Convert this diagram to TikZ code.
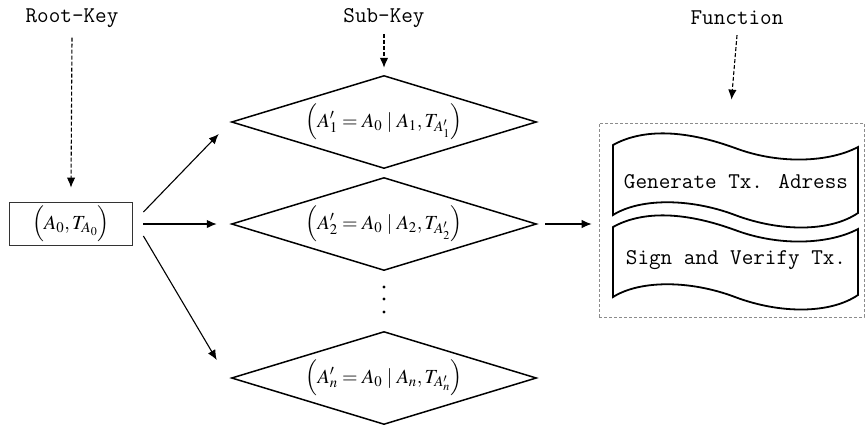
\documentclass[tikz,border=0pt]{standalone}
\usepackage{mathptmx}
\usepackage[no-math]{fontspec}
\usetikzlibrary{shapes.geometric,arrows.meta}
\tikzset{
  lbl/.style={font=\ttfamily\fontsize{22.5}{26}\selectfont, inner sep=0pt},
  mth/.style={font=\fontsize{20}{24}\selectfont},
  dia/.style={diamond, draw=black, line width=1.5pt, aspect=3.3, inner sep=0pt, minimum width=305pt, minimum height=93pt, mth},
  rootbox/.style={draw=black!80, line width=1.8pt, minimum width=123pt, minimum height=43pt, inner sep=0pt, mth},
  arr/.style={-{Latex[length=10pt,width=8.5pt]}, line width=1.1pt, black},
  darr/.style={-{Latex[length=10pt,width=8.5pt]}, line width=1.1pt, dash pattern=on 4pt off 2pt, black},
  wave/.style={draw=black, line width=1.8pt},
  fbox/.style={draw=black!45, dash pattern=on 3pt off 2pt, line width=0.7pt, minimum width=265pt, minimum height=194pt, inner sep=0pt},
}
\begin{document}
\begin{tikzpicture}[x=1pt,y=-1pt]
\useasboundingbox (0,0) rectangle (865,424);
% labels
\node[lbl] (lroot) at (72,18) {Root-Key};
\node[lbl] (lsub) at (384,18) {Sub-Key};
\node[lbl] (lfun) at (737,18) {Function};
% nodes
\node[rootbox] (root) at (71,224) {$\Big(A_0, T_{A_0}\Big)$};
\node[dia] (d1) at (384,122) {$\Big(A_1' = A_0 \mid A_1, T_{A_1'}\Big)$};
\node[dia] (d2) at (384,224) {$\Big(A_2' = A_0 \mid A_2, T_{A_2'}\Big)$};
\node[dia] (dn) at (384,378) {$\Big(A_n' = A_0 \mid A_n, T_{A_n'}\Big)$};
\node[fbox] (func) at (731.5,220) {};
% dots
\foreach \yy in {287,299,312} \fill (384,\yy) circle (1.6pt);
% wave shapes
\draw[wave] (613,145) .. controls (640,130) and (680,128) .. (735,148)
  .. controls (780,165) and (830,162) .. (858,147) -- (858,213)
  .. controls (830,232) and (780,232) .. (735,215)
  .. controls (690,198) and (640,198) .. (613,215) -- cycle;
\draw[wave] (613,227) .. controls (640,212) and (680,210) .. (735,230)
  .. controls (780,247) and (830,244) .. (858,229) -- (858,295)
  .. controls (830,314) and (780,314) .. (735,297)
  .. controls (690,280) and (640,280) .. (613,297) -- cycle;
\node[lbl] (w1) at (736,182) {Generate Tx. Adress};
\node[lbl] (w2) at (736,260) {Sign and Verify Tx.};
% dashed arrows
\draw[darr] ([yshift=-10pt]lroot.south) -- ([yshift=14pt]root.north);
\draw[darr] ([yshift=-6pt]lsub.south) -- ([yshift=7pt]d1.north);
\draw[darr] ([yshift=-10pt]lfun.south) -- ([yshift=23pt]func.north);
% solid arrows
\draw[arr] ([xshift=10pt,yshift=12pt]root.east) -- ([xshift=-12pt,yshift=-12pt]d1.west);
\draw[arr] ([xshift=10pt]root.east) -- ([xshift=-14pt]d2.west);
\draw[arr] ([xshift=10pt,yshift=-12pt]root.east) -- ([xshift=-14pt,yshift=18pt]dn.west);
\draw[arr] ([xshift=8pt]d2.east) -- ([xshift=-7pt]d2.east -| func.west);
\end{tikzpicture}
\end{document}
